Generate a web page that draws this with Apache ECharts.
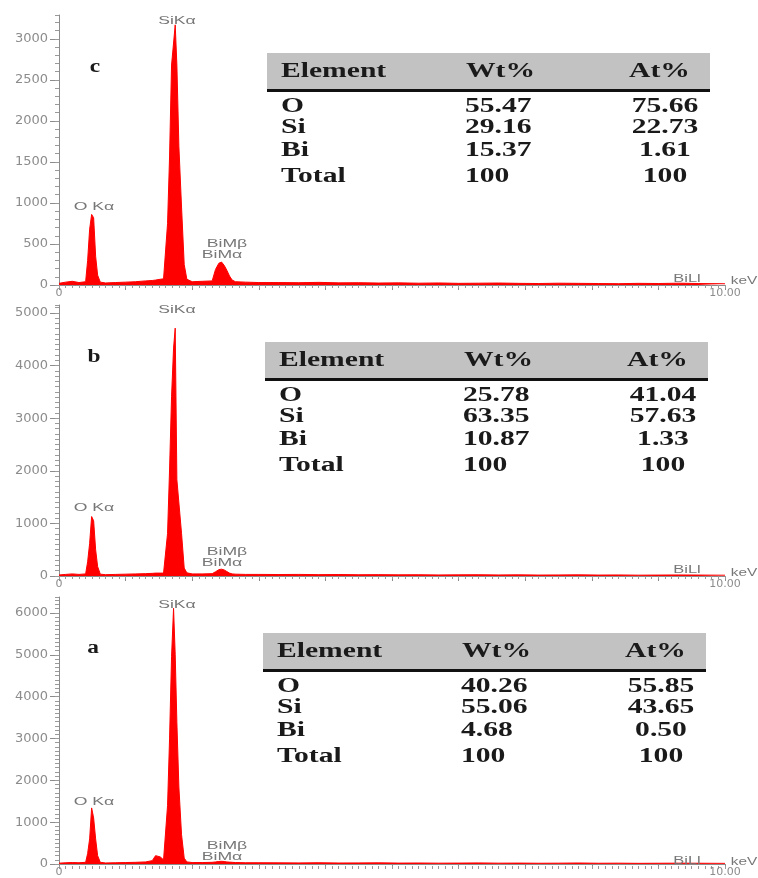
<!DOCTYPE html>
<html lang="en">
<head>
<meta charset="UTF-8">
<title>EDS spectra</title>
<style>
  html, body { margin: 0; background: #fff; }
  #chart { width: 758px; height: 878px; }
</style>
</head>
<body>
<div id="chart"></div>
<script src="https://cdn.jsdelivr.net/npm/echarts@6.0.0/dist/echarts.min.js"></script>
<script>
// energy channels (keV), shared by the three spectra
const energy = [0.00, 0.10, 0.20, 0.30,
  0.40, 0.43, 0.46, 0.49, 0.52, 0.55, 0.58, 0.62,
  0.70, 0.85, 1.00, 1.15, 1.30,
  1.40, 1.45, 1.48, 1.52, 1.57,
  1.60, 1.63, 1.66, 1.69, 1.72, 1.745, 1.77, 1.80, 1.84, 1.88, 1.92,
  2.00, 2.15,
  2.30, 2.35, 2.40, 2.44, 2.48, 2.52, 2.56, 2.60, 2.65,
  2.80, 3.00,
  3.30, 3.60, 3.90, 4.20, 4.50, 4.80, 5.10, 5.40, 5.70, 6.00, 6.30,
  6.60, 6.90, 7.20, 7.50, 7.80, 8.10, 8.40, 8.70, 9.00, 9.30, 9.60,
  10.00];

// counts
const countsC = [20, 35, 45, 30,
  40, 300, 680, 860, 820, 350, 120, 35,
  25, 30, 35, 40, 50,
  55, 60, 65, 70, 75,
  90, 750, 1560, 2680, 2700, 3170, 2680, 1690, 950, 250, 70,
  40, 45,
  50, 190, 265, 280, 240, 180, 110, 60, 40,
  35, 30,
  30, 28, 32, 26, 28, 24, 26, 22, 25, 20, 22,
  24, 20, 18, 22, 20, 18, 16, 20, 18, 22, 18,
  15];

const countsB = [20, 30, 40, 30,
  40, 270, 620, 1130, 1050, 500, 180, 35,
  25, 30, 35, 40, 45,
  50, 55, 60, 55, 55,
  70, 810, 2015, 3410, 4330, 4710, 1830, 1830, 810, 150, 60,
  40, 40,
  45, 80, 120, 130, 115, 85, 55, 40, 35,
  30, 30,
  28, 30, 26, 28, 24, 26, 22, 24, 20, 22, 24,
  20, 22, 18, 20, 22, 18, 20, 16, 18, 20, 18,
  15];

const countsA = [20, 30, 35, 30,
  40, 250, 600, 1340, 1100, 600, 200, 40,
  25, 30, 35, 40, 50,
  80, 200, 240, 170, 100,
  130, 1400, 2990, 4960, 6110, 5000, 3380, 1840, 700, 140, 50,
  35, 35,
  40, 50, 60, 65, 60, 50, 45, 40, 35,
  30, 30,
  28, 26, 30, 24, 26, 28, 22, 24, 20, 22, 26,
  20, 22, 18, 20, 24, 18, 20, 16, 18, 20, 18,
  15];

// axis tick labels
const yTicksC = [0, 500, 1000, 1500, 2000, 2500, 3000];
const yTicksB = [0, 1000, 2000, 3000, 4000, 5000];
const yTicksA = [0, 1000, 2000, 3000, 4000, 5000, 6000];
const xLabelValues = [0, 10];
const xLabelText = ['0', '10.00'];

// composition tables
const tableHead = ['Element', 'Wt%', 'At%'];
const elements = ['O', 'Si', 'Bi', 'Total'];
const wtC = ['55.47', '29.16', '15.37', '100'];
const atC = ['75.66', '22.73', '1.61', '100'];
const wtB = ['25.78', '63.35', '10.87', '100'];
const atB = ['41.04', '57.63', '1.33', '100'];
const wtA = ['40.26', '55.06', '4.68', '100'];
const atA = ['55.85', '43.65', '0.50', '100'];

const panels = [
  { tag: 'c', counts: countsC, wt: wtC, at: atC, yTicks: yTicksC, yMax: 3290,
    top: 15, height: 270, tagY: 67, tableTop: 53, dx: 2,
    labels: { o: 207, si: 21, bmb: 244, bma: 255, bil: 279, kev: 281 } },
  { tag: 'b', counts: countsB, wt: wtB, at: atB, yTicks: yTicksB, yMax: 5150,
    top: 305, height: 271, tagY: 357, tableTop: 342, dx: 0,
    labels: { o: 508, si: 310, bmb: 552, bma: 563, bil: 570, kev: 573 } },
  { tag: 'a', counts: countsA, wt: wtA, at: atA, yTicks: yTicksA, yMax: 6380,
    top: 597, height: 269, tagY: 648, tableTop: 633, dx: -2,
    labels: { o: 802, si: 605, bmb: 846, bma: 857, bil: 861, kev: 862 } }
];

const gridLeft = 59, gridWidth = 666;
const axisGray = '#8c8c8c';
const tableFont = 'bold 20px "Liberation Serif"';
const smallFont = '11px "Liberation Sans"';

function txt(str, x, y, font, fill, align, sx) {
  return {
    type: 'text', x: x, y: y, scaleX: sx, silent: true, z: 10,
    style: { text: str, font: font, fill: fill,
      align: align, textAlign: align, verticalAlign: 'middle', textVerticalAlign: 'middle' }
  };
}

const graphics = [];
panels.forEach(p => {
  graphics.push(txt(p.tag, 94 + p.dx / 2, p.tagY, 'bold 18px "Liberation Serif"', '#1a1a1a', 'center', 1.3));

  // peak labels
  const L = p.labels;
  graphics.push(txt('O K\u03b1', 94, L.o, smallFont, '#777', 'center', 1.6));
  graphics.push(txt('SiK\u03b1', 177, L.si, smallFont, '#777', 'center', 1.6));
  graphics.push(txt('BiM\u03b2', 227, L.bmb, smallFont, '#777', 'center', 1.6));
  graphics.push(txt('BiM\u03b1', 222, L.bma, smallFont, '#777', 'center', 1.6));
  graphics.push(txt('BiLl', 687, L.bil, smallFont, '#777', 'center', 1.5));
  graphics.push(txt('keV', 744, L.kev, smallFont, '#777', 'center', 1.4));

  // table
  const T = p.tableTop, x0 = 265 + p.dx;
  graphics.push({ type: 'rect', silent: true, z: 5,
    shape: { x: x0, y: T, width: 443, height: 38 }, style: { fill: '#c2c2c2' } });
  graphics.push({ type: 'rect', silent: true, z: 6,
    shape: { x: x0, y: T + 36, width: 443, height: 3 }, style: { fill: '#111' } });
  graphics.push(txt(tableHead[0], x0 + 14, T + 19, tableFont, '#1a1a1a', 'left', 1.48));
  graphics.push(txt(tableHead[1], x0 + 199, T + 19, tableFont, '#1a1a1a', 'left', 1.48));
  graphics.push(txt(tableHead[2], x0 + 362, T + 19, tableFont, '#1a1a1a', 'left', 1.48));
  const rowY = [54, 75, 98, 124];
  elements.forEach((el, k) => {
    graphics.push(txt(el, x0 + 14, T + rowY[k], tableFont, '#1a1a1a', 'left', 1.48));
    graphics.push(txt(p.wt[k], x0 + 198, T + rowY[k], tableFont, '#1a1a1a', 'left', 1.48));
    graphics.push(txt(p.at[k], x0 + 398, T + rowY[k], tableFont, '#1a1a1a', 'center', 1.48));
  });
});

// each grid: a main axis pair (line, long ticks, labels) plus a second pair for the short ticks.
// echarts pushes a second axis to the opposite side, so it is shifted back with a negative offset.
const xAxes = [], yAxes = [];
panels.forEach((p, i) => {
  xAxes.push({
    gridIndex: i, type: 'value', min: 0, max: 10, interval: 1, position: 'bottom',
    axisLine: { show: true, onZero: false, lineStyle: { color: axisGray, width: 1 } },
    axisTick: { show: true, length: 5, lineStyle: { color: axisGray } },
    splitLine: { show: false },
    axisLabel: {
      margin: 3, color: axisGray, fontSize: 11, fontFamily: 'DejaVu Sans',
      customValues: xLabelValues,
      formatter: v => xLabelText[xLabelValues.indexOf(v)] || ''
    }
  });
  xAxes.push({
    gridIndex: i, type: 'value', min: 0, max: 10, interval: 0.1,
    position: 'top', offset: -p.height,
    axisLine: { show: false, onZero: false },
    axisTick: { show: true, inside: true, length: 3, lineStyle: { color: '#9a9a9a' } },
    axisLabel: { show: false }, splitLine: { show: false }
  });
  yAxes.push({
    gridIndex: i, type: 'value', min: 0, max: p.yMax, interval: p.yTicks[1], position: 'left',
    axisLine: { show: true, onZero: false, lineStyle: { color: axisGray, width: 1 } },
    axisTick: { show: true, length: 9, customValues: p.yTicks, lineStyle: { color: axisGray } },
    splitLine: { show: false },
    axisLabel: {
      customValues: p.yTicks, margin: 11,
      color: axisGray, fontSize: 13, fontFamily: 'DejaVu Sans',
      formatter: v => String(v)
    }
  });
  yAxes.push({
    gridIndex: i, type: 'value', min: 0, max: p.yMax, interval: 100,
    position: 'right', offset: -gridWidth,
    axisLine: { show: false, onZero: false },
    axisTick: { show: true, inside: true, length: 4, lineStyle: { color: '#9a9a9a' } },
    axisLabel: { show: false }, splitLine: { show: false }
  });
});

const chart = echarts.init(document.getElementById('chart'));

chart.setOption({
  animation: false,
  backgroundColor: '#fff',
  grid: panels.map(p => ({ left: gridLeft, width: gridWidth, top: p.top, height: p.height })),
  xAxis: xAxes,
  yAxis: yAxes,
  series: panels.map((p, i) => ({
    type: 'line', xAxisIndex: 2 * i, yAxisIndex: 2 * i,
    data: energy.map((e, k) => [e, p.counts[k]]),
    symbol: 'none', showSymbol: false, silent: true,
    lineStyle: { color: '#ff0000', width: 1 },
    areaStyle: { color: '#ff0000', opacity: 1 },
    itemStyle: { color: '#ff0000' }
  })),
  graphic: { elements: graphics }
});
</script>
</body>
</html>
